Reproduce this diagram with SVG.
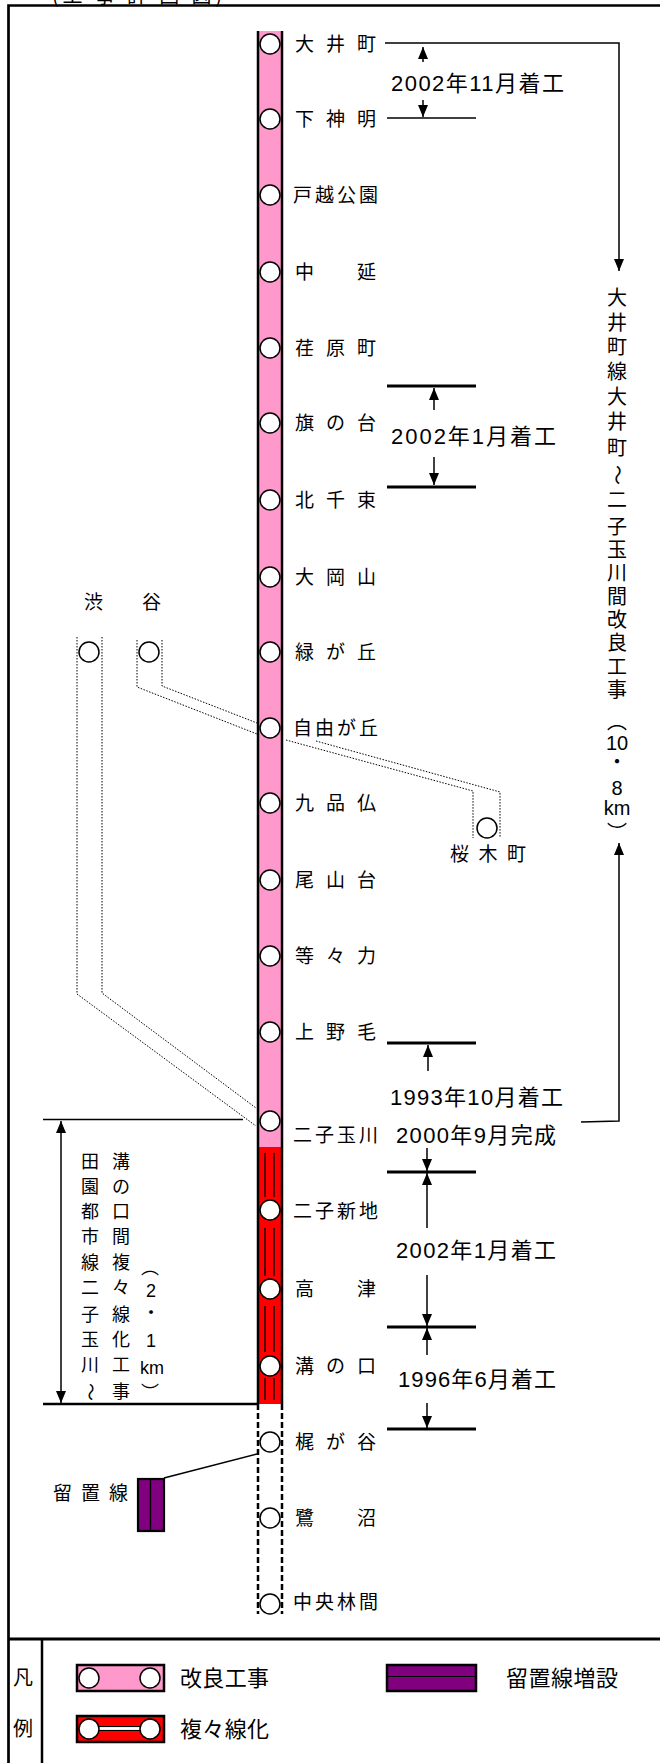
<svg xmlns="http://www.w3.org/2000/svg" width="660" height="1763" viewBox="0 0 660 1763">
<style>
text{font-family:"Noto Sans CJK JP","Liberation Sans",sans-serif;fill:#000}
.st{font-size:19px}
.an{font-family:"Liberation Sans","Noto Sans CJK JP",sans-serif;font-size:22px}
.vt{font-size:20px;text-anchor:middle}
.lv{font-size:18px;text-anchor:middle}
.lg{font-size:22px}
.ln{stroke:#000;stroke-width:1.5;fill:none}
.tk{stroke:#000;stroke-width:3;fill:none}
.dt{stroke:#000;stroke-width:1;stroke-dasharray:1.5 1.5;fill:none}
.stn{fill:#fff;stroke:#000;stroke-width:1.5}
.ar{stroke:#000;stroke-width:1.5;fill:none;marker-end:url(#ah)}
</style>
<defs>
<marker id="ah" markerWidth="12" markerHeight="10" refX="12" refY="5" orient="auto-start-reverse" markerUnits="userSpaceOnUse"><path d="M0,0 L12,5 L0,10 z" fill="#000"/></marker>
</defs>
<rect width="660" height="1763" fill="#fff"/>
<text x="52" y="2.5" style="font-size:20px" textLength="170">(工 事 計 画 図)</text>
<g id="frame">
<path d="M8.5,1763 V5.5 H662" stroke="#000" stroke-width="2.7" fill="none"/>
<line x1="8" y1="1639" x2="662" y2="1639" stroke="#000" stroke-width="3"/>
<line x1="42" y1="1639" x2="42" y2="1763" stroke="#000" stroke-width="2.5"/>
</g>
<g id="track">
<rect x="258" y="31" width="24" height="1116" fill="#FF99CC"/>
<rect x="258" y="1147" width="24" height="257" fill="#FF0000"/>
<line x1="258" y1="31" x2="258" y2="1404" stroke="#000" stroke-width="2.5"/>
<line x1="282" y1="31" x2="282" y2="1404" stroke="#000" stroke-width="2.5"/>
<path d="M258,1404 V1614 M282,1404 V1614" stroke="#000" stroke-width="2.5" stroke-dasharray="6 3" fill="none"/>
<path d="M265,1153 V1197 M274,1153 V1197 M265,1228 V1276 M274,1228 V1276 M265,1306 V1352 M274,1306 V1352 M265,1378 V1400 M274,1378 V1400" stroke="#000" stroke-width="1.3" fill="none"/>
</g>
<g id="connectors">
<path class="dt" d="M77,637 V994 L256,1126 M102,637 V993 L256,1108"/>
<path class="dt" d="M137,640 V687 L257,734 M162,640 V686 L257,723 M286,740 L473,791 V838 M316,741 L500,792 V838"/>
<line class="ln" x1="43" y1="1119.5" x2="243" y2="1119.5"/>
<line x1="43" y1="1404" x2="258" y2="1404" stroke="#000" stroke-width="2.5"/>
<line class="ln" x1="61" y1="1121" x2="61" y2="1403" style="marker-start:url(#ah);marker-end:url(#ah)"/>
<line x1="164" y1="1478" x2="257" y2="1454" stroke="#000" stroke-width="1.5"/>
<path class="ln" d="M385,43 H619 V271" style="marker-end:url(#ah)"/>
<path class="ln" d="M581,1122 L619,1121 V843" style="marker-end:url(#ah)"/>
<line class="ln" x1="387" y1="118" x2="476" y2="118"/>
<line class="ar" x1="423" y1="62" x2="423" y2="47"/>
<line class="ar" x1="423" y1="100" x2="423" y2="117"/>
<line class="tk" x1="387" y1="386" x2="476" y2="386"/>
<line class="tk" x1="387" y1="487" x2="476" y2="487"/>
<line class="ar" x1="434" y1="410" x2="434" y2="388"/>
<line class="ar" x1="434" y1="457" x2="434" y2="485"/>
<line class="tk" x1="387" y1="1043" x2="476" y2="1043"/>
<line class="ar" x1="428" y1="1071" x2="428" y2="1045"/>
<line class="tk" x1="387" y1="1172" x2="476" y2="1172"/>
<line class="ar" x1="427" y1="1148" x2="427" y2="1171"/>
<line class="ar" x1="427" y1="1228" x2="427" y2="1173"/>
<line class="tk" x1="387" y1="1327" x2="476" y2="1327"/>
<line class="ar" x1="427" y1="1275" x2="427" y2="1326"/>
<line class="ar" x1="427" y1="1355" x2="427" y2="1328"/>
<line class="tk" x1="387" y1="1429" x2="476" y2="1429"/>
<line class="ar" x1="427" y1="1403" x2="427" y2="1428"/>
</g>
<g id="stations">
<circle class="stn" cx="270" cy="44" r="10"/><circle class="stn" cx="270" cy="119" r="10"/><circle class="stn" cx="270" cy="195" r="10"/><circle class="stn" cx="270" cy="272" r="10"/><circle class="stn" cx="270" cy="348" r="10"/><circle class="stn" cx="270" cy="423" r="10"/><circle class="stn" cx="270" cy="500" r="10"/><circle class="stn" cx="270" cy="577" r="10"/><circle class="stn" cx="270" cy="652" r="10"/><circle class="stn" cx="270" cy="728" r="10"/><circle class="stn" cx="270" cy="803" r="10"/><circle class="stn" cx="270" cy="880" r="10"/><circle class="stn" cx="270" cy="956" r="10"/><circle class="stn" cx="270" cy="1032" r="10"/><circle class="stn" cx="270" cy="1121" r="10"/><circle class="stn" cx="270" cy="1210" r="10"/><circle class="stn" cx="270" cy="1289" r="10"/><circle class="stn" cx="270" cy="1366" r="10"/><circle class="stn" cx="270" cy="1442" r="10"/><circle class="stn" cx="270" cy="1518" r="10"/><circle class="stn" cx="270" cy="1604" r="10"/>
<circle class="stn" cx="89" cy="652" r="10"/><circle class="stn" cx="149" cy="652" r="10"/><circle class="stn" cx="487" cy="828" r="10"/>
</g>
<g id="labels">
<text class="st" x="295" y="51" textLength="81">大井町</text>
<text class="st" x="295" y="126" textLength="81">下神明</text>
<text class="st" x="293" y="202" textLength="85">戸越公園</text>
<text class="st" x="295" y="279" textLength="81">中延</text>
<text class="st" x="295" y="355" textLength="81">荏原町</text>
<text class="st" x="295" y="430" textLength="81">旗の台</text>
<text class="st" x="295" y="507" textLength="81">北千束</text>
<text class="st" x="295" y="584" textLength="81">大岡山</text>
<text class="st" x="295" y="659" textLength="81">緑が丘</text>
<text class="st" x="293" y="735" textLength="85">自由が丘</text>
<text class="st" x="295" y="810" textLength="81">九品仏</text>
<text class="st" x="295" y="887" textLength="81">尾山台</text>
<text class="st" x="295" y="963" textLength="81">等々力</text>
<text class="st" x="295" y="1039" textLength="81">上野毛</text>
<text class="st" x="293" y="1142" textLength="85">二子玉川</text>
<text class="st" x="293" y="1218" textLength="85">二子新地</text>
<text class="st" x="295" y="1296" textLength="81">高津</text>
<text class="st" x="295" y="1373" textLength="81">溝の口</text>
<text class="st" x="295" y="1449" textLength="81">梶が谷</text>
<text class="st" x="295" y="1525" textLength="81">鷺沼</text>
<text class="st" x="293" y="1609" textLength="85">中央林間</text>
<text class="st" x="84" y="609" textLength="77">渋谷</text>
<text class="st" x="450" y="861" textLength="76">桜木町</text>
<text class="st" x="53" y="1500" textLength="75">留置線</text>
</g>
<g id="annotations">
<text class="an" x="391" y="91" textLength="173">2002年11月着工</text>
<text class="an" x="391" y="444" textLength="165">2002年1月着工</text>
<text class="an" x="390" y="1105" textLength="173">1993年10月着工</text>
<text class="an" x="396" y="1143" textLength="160">2000年9月完成</text>
<text class="an" x="396" y="1258" textLength="160">2002年1月着工</text>
<text class="an" x="398" y="1387" textLength="158">1996年6月着工</text>
</g>
<g id="vtext-right">
<text class="vt" x="617" y="305">大</text><text class="vt" x="617" y="330">井</text><text class="vt" x="617" y="354">町</text><text class="vt" x="617" y="379">線</text><text class="vt" x="617" y="404">大</text><text class="vt" x="617" y="429">井</text><text class="vt" x="617" y="455">町</text>
<text class="vt" x="617" y="482" transform="rotate(90 617 475)">～</text>
<text class="vt" x="617" y="507">二</text><text class="vt" x="617" y="534">子</text><text class="vt" x="617" y="557">玉</text><text class="vt" x="617" y="580">川</text><text class="vt" x="617" y="604">間</text><text class="vt" x="617" y="627">改</text><text class="vt" x="617" y="650">良</text><text class="vt" x="617" y="674">工</text><text class="vt" x="617" y="697">事</text>
<text class="vt" x="617" y="729">︵</text>
<text class="vt" x="617" y="750" style="font-family:'Liberation Sans',sans-serif">10</text>
<text class="vt" x="617" y="769">・</text>
<text class="vt" x="617" y="795" style="font-family:'Liberation Sans',sans-serif">8</text>
<text class="vt" x="617" y="815" style="font-family:'Liberation Sans',sans-serif">km</text>
<text class="vt" x="617" y="840">︶</text>
</g>
<g id="vtext-left">
<text class="lv" x="90" y="1168">田</text><text class="lv" x="90" y="1193">園</text><text class="lv" x="90" y="1218">都</text><text class="lv" x="90" y="1243">市</text><text class="lv" x="90" y="1269">線</text><text class="lv" x="90" y="1294">二</text><text class="lv" x="90" y="1321">子</text><text class="lv" x="90" y="1346">玉</text><text class="lv" x="90" y="1371">川</text>
<text class="lv" x="90" y="1398" transform="rotate(90 90 1392)">～</text>
<text class="lv" x="121" y="1168">溝</text><text class="lv" x="121" y="1193">の</text><text class="lv" x="121" y="1218">口</text><text class="lv" x="121" y="1243">間</text><text class="lv" x="121" y="1269">複</text><text class="lv" x="121" y="1294">々</text><text class="lv" x="121" y="1321">線</text><text class="lv" x="121" y="1346">化</text><text class="lv" x="121" y="1371">工</text><text class="lv" x="121" y="1398">事</text>
<text class="lv" x="150" y="1274">︵</text>
<text class="lv" x="151" y="1297" style="font-family:'Liberation Sans',sans-serif">2</text>
<text class="lv" x="151" y="1319">・</text>
<text class="lv" x="151" y="1347" style="font-family:'Liberation Sans',sans-serif">1</text>
<text class="lv" x="152" y="1374" style="font-family:'Liberation Sans',sans-serif">km</text>
<text class="lv" x="150" y="1399">︶</text>
</g>
<g id="siding">
<rect x="138" y="1479" width="26" height="52" fill="#800080" stroke="#000" stroke-width="2.2"/>
<line x1="150.5" y1="1480" x2="150.5" y2="1530" stroke="#000" stroke-width="1.3"/>
</g>
<g id="legend">
<text x="13" y="1685" style="font-size:20px">凡</text>
<text x="13" y="1736" style="font-size:20px">例</text>
<rect x="77" y="1665" width="87" height="26" fill="#FF99CC" stroke="#000" stroke-width="2.5"/>
<circle class="stn" cx="89" cy="1678" r="10"/><circle class="stn" cx="150" cy="1678" r="10"/>
<text class="lg" x="180" y="1686" textLength="89">改良工事</text>
<rect x="77" y="1716" width="87" height="26" fill="#FF0000" stroke="#000" stroke-width="2.5"/>
<line x1="99" y1="1726.5" x2="140" y2="1726.5" stroke="#000" stroke-width="1.2"/>
<line x1="99" y1="1730.5" x2="140" y2="1730.5" stroke="#000" stroke-width="1.2"/>
<rect x="99" y="1727.1" width="41" height="2.8" fill="#fff"/>
<circle class="stn" cx="89" cy="1729" r="10"/><circle class="stn" cx="150" cy="1729" r="10"/>
<text class="lg" x="180" y="1737" textLength="89">複々線化</text>
<rect x="387" y="1665" width="89" height="26" fill="#800080" stroke="#000" stroke-width="2.5"/>
<line x1="388" y1="1676.5" x2="475" y2="1676.5" stroke="#000" stroke-width="1.2"/>
<text class="lg" x="506" y="1686" textLength="112">留置線増設</text>
</g>
</svg>
